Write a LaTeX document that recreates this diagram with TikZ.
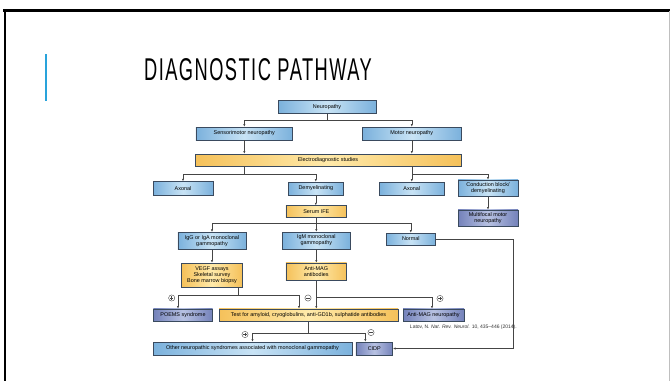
\documentclass[tikz,border=0pt]{standalone}
\usepackage{fontspec}
\setmainfont{Liberation Sans}
\usetikzlibrary{arrows.meta,calc}
\definecolor{bluelight}{HTML}{C8E3F5}
\definecolor{bluedark}{HTML}{7BB1DC}
\definecolor{purplelight}{HTML}{B7C1E2}
\definecolor{purpledark}{HTML}{7482BA}
\definecolor{orangelight}{HTML}{FFEAAA}
\definecolor{orangedark}{HTML}{F5C15A}
\definecolor{boxline}{HTML}{3A4A5E}
\definecolor{conn}{HTML}{454545}
\definecolor{accent}{HTML}{29A3DB}
\begin{document}
\begin{tikzpicture}[x=1pt,y=-1pt,
  box/.style={draw=boxline, line width=0.6pt, inner sep=0pt, align=center,
    font=\fontsize{5.45}{6}\selectfont, text=black},
  bluebox/.style={box, left color=bluedark, right color=bluedark, middle color=bluelight},
  purplebox/.style={box, left color=purpledark, right color=purpledark, middle color=purplelight},
  orangebox/.style={box, left color=orangedark, right color=orangedark, middle color=orangelight},
  arr/.style={draw=conn, line width=0.5pt, -{Latex[length=2.6pt,width=2.2pt]}},
  sign/.style={circle, draw=conn, line width=0.4pt, inner sep=0pt, minimum size=6.2pt},
  signstroke/.style={draw=conn, line width=0.45pt}
]
\useasboundingbox (0,0) rectangle (670,381);
\fill[white] (0,0) rectangle (670,381);
% slide frame
\draw[black, line width=2.2pt] (3,10.5) -- (670,10.5);
\draw[black, line width=2pt] (4.6,9.5) -- (4.6,381);
\draw[black!25, line width=0.8pt] (669.2,11) -- (669.2,381);
% accent bar and title
\draw[accent, line width=1.8pt] (46,54) -- (46,101);
\node[anchor=base west, inner sep=0pt, xscale=0.58, font=\fontsize{31.5}{32}\selectfont\addfontfeatures{LetterSpace=8}] (title) at (144,80) {DIAGNOSTIC PATHWAY};

% nodes
\node[bluebox, minimum width=97.7pt, minimum height=13.3pt] (neu) at (327,106.7) {Neuropathy};
\node[bluebox, minimum width=96.7pt, minimum height=13pt] (sens) at (244.3,133.5) {Sensorimotor neuropathy};
\node[bluebox, minimum width=98.3pt, minimum height=13pt] (mot) at (411.8,133.5) {Motor neuropathy};
\node[orangebox, minimum width=266pt, minimum height=12pt] (elec) at (328,160) {Electrodiagnostic studies};
\node[bluebox, minimum width=59.7pt, minimum height=13.3pt] (ax1) at (183,188.3) {Axonal};
\node[bluebox, minimum width=55.6pt, minimum height=13pt] (dem) at (315.8,188.5) {Demyelinating};
\node[bluebox, minimum width=65pt, minimum height=13pt] (ax2) at (411.8,188.5) {Axonal};
\node[bluebox, minimum width=60pt, minimum height=16.7pt] (cond) at (488,188.3) {Conduction block/\\demyelinating};
\node[purplebox, minimum width=60pt, minimum height=16.7pt] (mmn) at (488,218.3) {Multifocal motor\\neuropathy};
\node[orangebox, minimum width=60.7pt, minimum height=11.7pt] (serum) at (316.3,211.5) {Serum IFE};
\node[bluebox, minimum width=68.3pt, minimum height=17pt] (igg) at (212,240.8) {IgG or IgA monoclonal\\gammopathy};
\node[bluebox, minimum width=67.7pt, minimum height=17pt] (igm) at (316.3,240.5) {IgM monoclonal\\gammopathy};
\node[bluebox, minimum width=49pt, minimum height=12pt] (normal) at (410.8,239) {Normal};
\node[orangebox, minimum width=60.6pt, minimum height=24pt] (vegf) at (212,275) {VEGF assays\\Skeletal survey\\Bone marrow biopsy};
\node[orangebox, minimum width=60.7pt, minimum height=17.7pt] (amab) at (316.3,271.8) {Anti-MAG\\antibodies};
\node[purplebox, minimum width=59.4pt, minimum height=12.7pt] (poems) at (183,315.3) {POEMS syndrome};
\node[orangebox, minimum width=179pt, minimum height=12.7pt] (test) at (308.5,315.3) {Test for amyloid, cryoglobulins, anti-GD1b, sulphatide antibodies};
\node[purplebox, minimum width=61pt, minimum height=12.7pt] (amn) at (433.5,315.3) {Anti-MAG neuropathy};
\node[bluebox, minimum width=199pt, minimum height=13pt] (other) at (252.5,348.5) {Other neuropathic syndromes associated with monoclonal gammopathy};
\node[purplebox, minimum width=36.7pt, minimum height=13pt] (cidp) at (374.3,348.5) {CIDP};
\node[anchor=east, inner sep=0pt, font=\fontsize{5}{5.5}\selectfont, text=black!80] (cite) at (517,327.5) {Latov, N. \textit{Nat. Rev. Neurol.} 10, 435--446 (2014).};

% connectors
\draw[arr] (neu.south) -- ++(0,6.8) -| (sens.north);
\draw[arr] (neu.south) -- ++(0,6.8) -| (mot.north);
\draw[arr] (sens.south) -- (sens.south|-elec.north);
\draw[arr] (mot.south) -- (mot.south|-elec.north);
\draw[arr] (elec.south-|sens) -- ++(0,7.5) -| (ax1.north);
\draw[arr] (elec.south-|sens) -- ++(0,7.5) -| (dem.north);
\draw[arr] (elec.south-|mot) -- (ax2.north-|mot);
\draw[arr] (elec.south-|mot) -- ++(0,7.5) -| (cond.north);
\draw[arr] (cond.south) -- (mmn.north);
\draw[arr] (dem.south) -- (dem.south|-serum.north);
\draw[arr] (serum.south) -- ++(0,6) -| (igg.north);
\draw[arr] (serum.south) -- ++(0,6) -| (igm.north);
\draw[arr] (serum.south) -- ++(0,6) -| (normal.north);
\draw[arr] (igg.south) -- (igg.south|-vegf.north);
\draw[arr] (igm.south) -- (igm.south|-amab.north);
\coordinate (vegfout) at ($(vegf.south)+(26,0)$);
\draw[arr] (vegfout) -- ++(0,8) -| ($(poems.north)+(-5,0)$);
\draw[arr] (vegfout) -- ++(0,8) -| ($(test.north)+(-9.5,0)$);
\draw[arr] (amab.south) -- (amab.south|-test.north);
\draw[arr] ($(amab.south)+(0,16)$) -| ($(amn.north)+(-1.5,0)$);
\draw[arr] (test.south) -- ++(0,11.5) -| (other.north);
\draw[arr] (test.south) -- ++(0,11.5) -| ($(cidp.north)+(-9,0)$);
\draw[arr] (normal.east) -- ++(78,0) |- (cidp.east);

% signs
\node[sign] (s1) at (171.7,298) {};
\node[sign] (s2) at (308,298) {};
\node[sign] (s3) at (440,298.5) {};
\node[sign] (s4) at (245,334.5) {};
\node[sign] (s5) at (371,332.5) {};
\foreach \s in {s1,s2,s3,s4,s5}{\draw[signstroke] ($(\s)+(-1.7,0)$) -- ($(\s)+(1.7,0)$);}
\foreach \s in {s1,s3,s4}{\draw[signstroke] ($(\s)+(0,-1.7)$) -- ($(\s)+(0,1.7)$);}
\end{tikzpicture}
\end{document}
